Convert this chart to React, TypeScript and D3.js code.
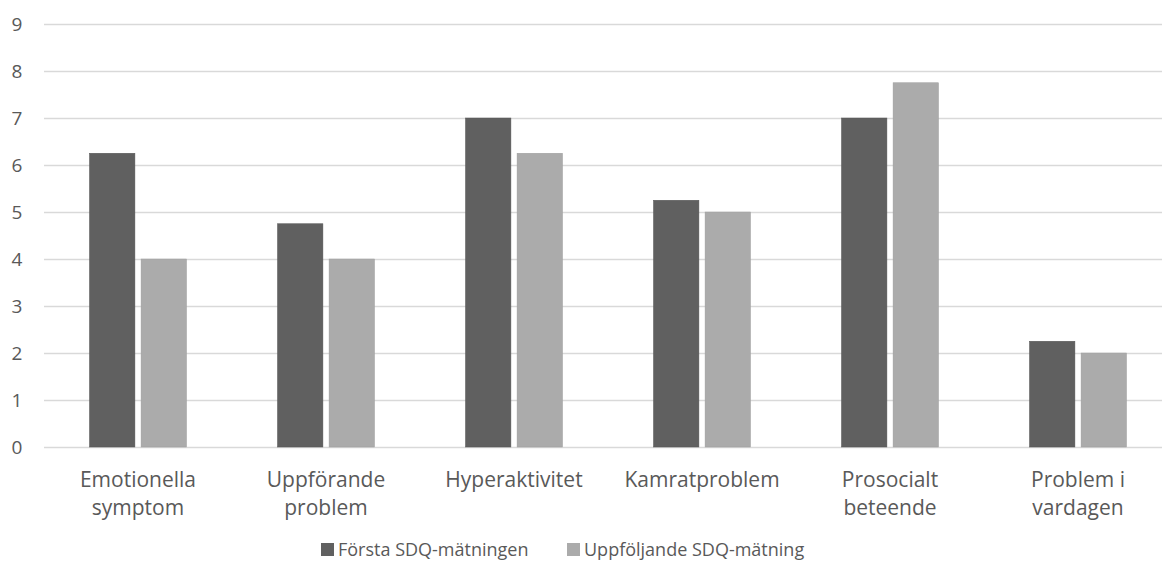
import React, { useEffect, useRef } from 'react';
import * as d3 from 'd3';

const categories = [
  ['Emotionella', 'symptom'],
  ['Uppförande', 'problem'],
  ['Hyperaktivitet'],
  ['Kamratproblem'],
  ['Prosocialt', 'beteende'],
  ['Problem i', 'vardagen'],
];
const seriesNames = ['Första SDQ-mätningen', 'Uppföljande SDQ-mätning'];
const first = [6.25, 4.75, 7, 5.25, 7, 2.25];
const followUp = [4, 4, 6.25, 5, 7.75, 2];
const yTicks = [0, 1, 2, 3, 4, 5, 6, 7, 8, 9];
const colors = ['#606060', '#ababab'];

const App = () => {
  const ref = useRef<SVGSVGElement | null>(null);

  useEffect(() => {
    if (!ref.current) return;
    const svg = d3.select(ref.current);
    svg.selectAll('*').remove();

    const font = '"Open Sans", sans-serif';
    const textColor = '#595959';

    const x = d3.scaleBand<number>()
      .domain(categories.map((_, i) => i))
      .range([44, 1172]);

    const y = d3.scaleLinear().domain([0, 9]).range([447, 24]);

    const inner = d3.scaleBand<number>()
      .domain([0, 1])
      .range([45.5, x.bandwidth() - 45.5])
      .paddingInner(0.12);

    // gridlines
    svg.append('g')
      .selectAll('line')
      .data(yTicks)
      .join('line')
      .attr('x1', 44)
      .attr('x2', 1162)
      .attr('y1', (d) => y(d) + 0.5)
      .attr('y2', (d) => y(d) + 0.5)
      .attr('stroke', '#d9d9d9')
      .attr('stroke-width', 1.3);

    // y labels
    svg.append('g')
      .selectAll('text')
      .data(yTicks)
      .join('text')
      .attr('x', 17)
      .attr('y', (d) => y(d) + 7)
      .attr('text-anchor', 'middle')
      .attr('font-family', font)
      .attr('font-size', 19)
      .attr('fill', textColor)
      .text((d) => d);

    const series = [first, followUp];
    series.forEach((vals, s) => {
      svg.append('g')
        .selectAll('rect')
        .data(vals)
        .join('rect')
        .attr('x', (_, i) => (x(i) as number) + (inner(s) as number))
        .attr('y', (d) => y(d))
        .attr('width', inner.bandwidth())
        .attr('height', (d) => y(0) - y(d))
        .attr('fill', colors[s])
        .attr('stroke', s === 0 ? '#555' : '#9e9e9e')
        .attr('stroke-width', 0.5);
    });

    // category labels
    const cat = svg.append('g')
      .selectAll('text')
      .data(categories)
      .join('text')
      .attr('x', (_, i) => (x(i) as number) + x.bandwidth() / 2)
      .attr('y', 487)
      .attr('text-anchor', 'middle')
      .attr('font-family', font)
      .attr('font-size', 21)
      .attr('fill', textColor);
    cat.selectAll('tspan')
      .data((d) => d)
      .join('tspan')
      .attr('x', function () {
        return (this.parentNode as SVGTextElement).getAttribute('x');
      })
      .attr('dy', (_, j) => (j === 0 ? 0 : 28))
      .text((d) => d);

    // legend
    const legendX = [321, 567];
    const legend = svg.append('g')
      .selectAll('g')
      .data(seriesNames)
      .join('g')
      .attr('transform', (_, i) => `translate(${legendX[i]},549)`);
    legend.append('rect')
      .attr('x', 0)
      .attr('y', -6)
      .attr('width', 13)
      .attr('height', 13)
      .attr('fill', (_, i) => colors[i]);
    legend.append('text')
      .attr('x', 17)
      .attr('y', 7)
      .attr('font-family', font)
      .attr('font-size', 18)
      .attr('fill', textColor)
      .text((d) => d);
  }, []);

  return (
    <svg
      ref={ref}
      width={1162}
      height={572}
      style={{ position: 'absolute', left: 0, top: 0, background: '#fff' }}
    />
  );
};

export default App;
